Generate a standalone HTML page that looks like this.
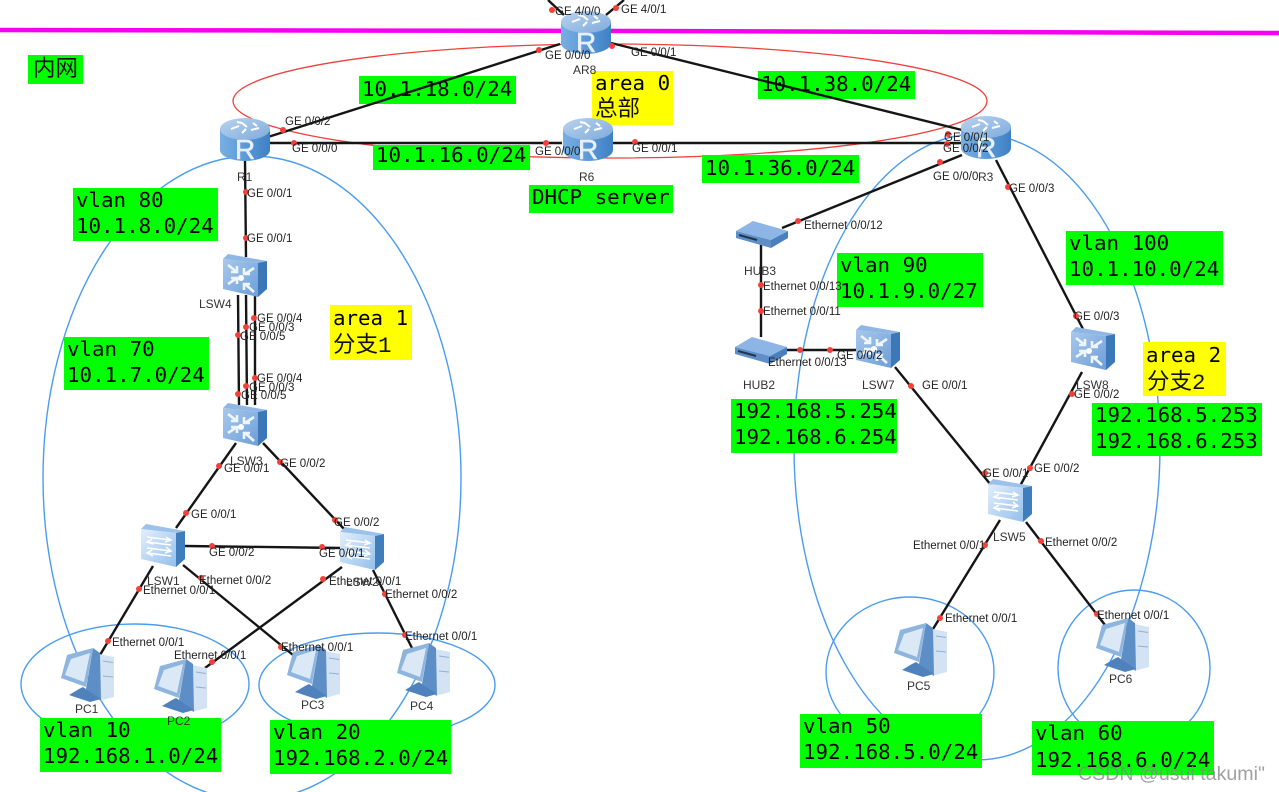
<!DOCTYPE html>
<html><head><meta charset="utf-8"><title>Network diagram</title>
<style>
html,body{margin:0;padding:0;background:#fff;width:1279px;height:792px;overflow:hidden}
svg{display:block;filter:blur(.35px)}
.l{font:11.5px "Liberation Sans",sans-serif;fill:#222}
.n{font:12px "Liberation Sans",sans-serif;fill:#333}
.m{font:20.8px "DejaVu Sans Mono","Noto Sans CJK SC",monospace;fill:#000}
.c{font:22.5px "Liberation Mono","Noto Sans CJK SC",monospace;fill:#111}
.r{font:28px "Liberation Sans",sans-serif;fill:#e6effa;stroke:#e6effa;stroke-width:.6}
.w{font:19.6px "Liberation Sans",sans-serif;fill:#888;fill-opacity:.8}
.k line,.k path{stroke:#151515;stroke-width:2.4;fill:none}
.b ellipse{fill:none;stroke:#4a9cf0;stroke-width:1.4}
.g{fill:#0f0}.y{fill:#ff0}
.d circle{fill:#f5403a;r:3px}
</style></head><body>
<svg width="1279" height="792" viewBox="0 0 1279 792" xmlns="http://www.w3.org/2000/svg">
<defs>
<linearGradient id="rb" x1="0" x2="1" y1="0" y2="0"><stop offset="0" stop-color="#78aee2"/><stop offset=".5" stop-color="#5c9ad8"/><stop offset="1" stop-color="#3f80c4"/></linearGradient>
<linearGradient id="rt" x1="0" x2="1" y1="0" y2="1"><stop offset="0" stop-color="#b9d3ef"/><stop offset="1" stop-color="#7fabdc"/></linearGradient>
<linearGradient id="sf" x1="0" x2="1" y1="0" y2="1"><stop offset="0" stop-color="#a8c8ec"/><stop offset="1" stop-color="#6d9fd8"/></linearGradient>
<linearGradient id="lf" x1="0" x2="1" y1="0" y2="1"><stop offset="0" stop-color="#e2effb"/><stop offset="1" stop-color="#94bfec"/></linearGradient>
<g id="router">
<path d="M-25-11V10A25 11 0 0 0 25 10V-11Z" fill="url(#rb)"/>
<ellipse cx="0" cy="-11" rx="25" ry="11" fill="url(#rt)"/>
<path d="M-14-11l8-3M-3-17l5 4M6-10l8-2M-3-7l4-4M-8-18l5 1M8-17l4 3" stroke="#fff" stroke-width="2" fill="none"/>
</g>
<g id="l3">
<polygon points="-22,-18 -17,-23 22,-16 13,-14" fill="#8fb7e4"/>
<polygon points="13,-14 22,-16 22,12 13,20" fill="#3c78b8"/>
<polygon points="-22,-18 13,-14 13,20 -22,12" fill="url(#sf)"/>
<path d="M-17-12l9 7M-8-11v6h-6M9-9l-9 6M-1-9v6h6M-17 7l9-6M-14 1h6v6M9 15l-9-8M-1 13V7h6" stroke="#eef5fc" stroke-width="2.6" fill="none"/>
<circle cx="-4" cy="1" r="3" fill="#fff"/>
</g>
<g id="l2">
<polygon points="-22,-18 -17,-23 22,-16 13,-14" fill="#9cc2ea"/>
<polygon points="13,-14 22,-16 22,12 13,20" fill="#3f7dbd"/>
<polygon points="-22,-18 13,-14 13,20 -22,12" fill="url(#lf)"/>
<path d="M-16-10l24 3M3-10l5 3-6 2M8-2l-24-3M-11-8l-5 3 6 2M-16 1l24 3M3 0l5 4-6 2M8 9l-24-3M-11 3l-5 3 6 3" stroke="#fff" stroke-width="1.5" fill="none"/>
</g>
<g id="hub">
<polygon points="-26,-3 -9,-13 26,-3 9,6" fill="#8db6e6"/>
<polygon points="-26,-3 9,6 9,14 -26,4" fill="#5f8fc6"/>
<polygon points="9,6 26,-3 26,4 9,14" fill="#4a80bd"/>
<path d="M-23 1l18 5" stroke="#20364f" stroke-width="2"/>
</g>
<g id="pc">
<polygon points="12,-21 27,-18 27,22 12,26" fill="#d3e3f4"/>
<path d="M16-14l10 1.500M16 1l10 1" stroke="#8fb0d4" stroke-width="1"/>
<polygon points="6,-27 13,-22 14,26 -1,14" fill="#5d8ec6"/>
<polygon points="-20,-20 6,-27 -1,12 -26,3" fill="#8db5de"/>
<polygon points="-16,-16 3,-22 -3,7 -22,0" fill="#dbe9f6"/>
<polygon points="-18,20 -8,14 -4,12 14,24 3,27" fill="#4f82bd"/>
</g>
</defs>
<rect width="1279" height="792" fill="#fff"/>
<path d="M0 30 L640 31 L1279 33" stroke="#f700f2" stroke-width="4.500" fill="none"/>
<ellipse cx="610" cy="101" rx="377" ry="57" fill="none" stroke="#f0403c" stroke-width="1.3"/>
<g class="b">
<ellipse cx="252" cy="478" rx="209" ry="322"/>
<ellipse cx="977" cy="447" rx="183" ry="313"/>
<ellipse cx="135" cy="684" rx="114" ry="60"/>
<ellipse cx="377" cy="685" rx="118" ry="52"/>
<ellipse cx="910" cy="672" rx="84" ry="75"/>
<ellipse cx="1134" cy="668" rx="76" ry="78"/>
</g>
<g class="k">
<line x1="548" y1="0" x2="564" y2="15"/><line x1="606" y1="15" x2="624" y2="0"/>
<line x1="268" y1="143" x2="562" y2="143"/><line x1="612" y1="143" x2="965" y2="143"/>
<line x1="245" y1="160" x2="246" y2="257"/>
<line x1="238" y1="295" x2="239" y2="405"/><line x1="246" y1="295" x2="247" y2="405"/><line x1="255" y1="295" x2="255" y2="405"/>
<line x1="236" y1="443" x2="176" y2="528"/><line x1="263" y1="443" x2="345" y2="530"/>
<line x1="185" y1="546" x2="342" y2="548"/>
<line x1="153" y1="566" x2="100" y2="655"/><line x1="183" y1="565" x2="293" y2="655"/>
<line x1="342" y1="567" x2="205" y2="668"/><line x1="373" y1="570" x2="413" y2="650"/>
<line x1="962" y1="155" x2="782" y2="228"/><line x1="761" y1="245" x2="761" y2="337"/>
<line x1="787" y1="350" x2="857" y2="350"/><line x1="895" y1="367" x2="995" y2="490"/>
<line x1="996" y1="160" x2="1084" y2="331"/><line x1="1082" y1="372" x2="1020" y2="486"/>
<line x1="1000" y1="520" x2="933" y2="629"/><line x1="1026" y1="522" x2="1105" y2="625"/>
</g>
<rect class="g" x="28" y="55" width="55" height="29"/>
<rect class="g" x="359" y="76" width="157" height="28"/>
<rect class="y" x="592" y="71" width="81" height="54"/>
<rect class="g" x="758" y="71" width="157" height="28"/>
<rect class="g" x="373" y="145" width="157" height="25"/>
<rect class="g" x="702" y="155" width="157" height="28"/>
<rect class="g" x="529" y="185" width="144" height="28"/>
<rect class="g" x="73" y="188" width="145" height="53"/>
<rect class="g" x="1066" y="231" width="157" height="54"/>
<rect class="g" x="837" y="253" width="146" height="54"/>
<rect class="y" x="330" y="305" width="82" height="55"/>
<rect class="g" x="64" y="337" width="145" height="53"/>
<rect class="y" x="1143" y="342" width="83" height="54"/>
<rect class="g" x="731" y="399" width="166" height="54"/>
<rect class="g" x="1092" y="403" width="170" height="53"/>
<rect class="g" x="40" y="718" width="181" height="54"/>
<rect class="g" x="270" y="720" width="181" height="54"/>
<rect class="g" x="800" y="714" width="182" height="54"/>
<rect class="g" x="1032" y="721" width="182" height="54"/>
<g class="k"><line x1="560" y1="44" x2="268" y2="137"/><line x1="611" y1="43" x2="966" y2="131"/></g>
<use href="#router" x="586" y="33"/><text class="r" x="576" y="52">R</text>
<use href="#router" x="245" y="140"/><text class="r" x="235" y="159">R</text>
<use href="#router" x="588" y="140"/><text class="r" x="578" y="159">R</text>
<use href="#router" x="986" y="138"/><text class="r" x="976" y="157">R</text>
<use href="#l3" x="245" y="277"/><use href="#l3" x="245" y="426"/><use href="#l3" x="878" y="348"/><use href="#l3" x="1093" y="350"/>
<use href="#l2" x="163" y="547"/><use href="#l2" x="362" y="550"/><use href="#l2" x="1010" y="502"/>
<use href="#hub" x="762" y="234"/><use href="#hub" x="761" y="350"/>
<use href="#pc" x="87" y="675"/><use href="#pc" x="180" y="686"/><use href="#pc" x="313" y="672"/><use href="#pc" x="423" y="670"/><use href="#pc" x="920" y="650"/><use href="#pc" x="1122" y="645"/>
<g class="d">
<circle cx="552" cy="10"/><circle cx="616" cy="8"/><circle cx="539" cy="50"/><circle cx="612" cy="46"/>
<circle cx="283" cy="130"/><circle cx="294" cy="143"/><circle cx="246" cy="192"/><circle cx="246" cy="238"/>
<circle cx="546" cy="143"/><circle cx="635" cy="142"/><circle cx="948" cy="134"/><circle cx="947" cy="144"/><circle cx="940" cy="162"/><circle cx="1008" cy="187"/>
<circle cx="798" cy="221"/><circle cx="761" cy="285"/><circle cx="761" cy="311"/><circle cx="800" cy="350"/><circle cx="830" cy="350"/><circle cx="911" cy="386"/>
<circle cx="1076" cy="316"/><circle cx="1072" cy="394"/><circle cx="985" cy="473"/><circle cx="1030" cy="468"/><circle cx="985" cy="545"/><circle cx="1041" cy="541"/><circle cx="940" cy="618"/><circle cx="1097" cy="614"/>
<circle cx="254" cy="318"/><circle cx="246" cy="327"/><circle cx="238" cy="335"/><circle cx="255" cy="378"/><circle cx="246" cy="386"/><circle cx="238" cy="394"/>
<circle cx="219" cy="466"/><circle cx="280" cy="462"/><circle cx="186" cy="513"/><circle cx="335" cy="520"/><circle cx="212" cy="546"/><circle cx="322" cy="547"/>
<circle cx="139" cy="589"/><circle cx="201" cy="578"/><circle cx="323" cy="579"/><circle cx="385" cy="594"/><circle cx="405" cy="635"/><circle cx="281" cy="647"/><circle cx="108" cy="641"/><circle cx="212" cy="662"/>
</g>
<g class="l">
<text x="555" y="15">GE 4/0/0</text><text x="621" y="13">GE 4/0/1</text><text x="545" y="59">GE 0/0/0</text><text x="631" y="56">GE 0/0/1</text>
<text x="285" y="125">GE 0/0/2</text><text x="292" y="152">GE 0/0/0</text><text x="247" y="197">GE 0/0/1</text><text x="247" y="242">GE 0/0/1</text>
<text x="535" y="155">GE 0/0/0</text><text x="632" y="152">GE 0/0/1</text>
<text x="944" y="141">GE 0/0/1</text><text x="943" y="152">GE 0/0/2</text><text x="933" y="180">GE 0/0/0</text><text x="1009" y="192">GE 0/0/3</text>
<text x="804" y="229">Ethernet 0/0/12</text><text x="763" y="290">Ethernet 0/0/13</text><text x="763" y="315">Ethernet 0/0/11</text><text x="768" y="366">Ethernet 0/0/13</text>
<text x="837" y="359">GE 0/0/2</text><text x="922" y="389">GE 0/0/1</text><text x="1074" y="320">GE 0/0/3</text><text x="1074" y="398">GE 0/0/2</text>
<text x="983" y="477">GE 0/0/1</text><text x="1034" y="472">GE 0/0/2</text><text x="913" y="549">Ethernet 0/0/1</text><text x="1045" y="546">Ethernet 0/0/2</text>
<text x="945" y="622">Ethernet 0/0/1</text><text x="1097" y="619">Ethernet 0/0/1</text>
<text x="257" y="322">GE 0/0/4</text><text x="249" y="331">GE 0/0/3</text><text x="240" y="340">GE 0/0/5</text>
<text x="257" y="382">GE 0/0/4</text><text x="249" y="391">GE 0/0/3</text><text x="241" y="399">GE 0/0/5</text>
<text x="224" y="472">GE 0/0/1</text><text x="280" y="467">GE 0/0/2</text><text x="191" y="518">GE 0/0/1</text><text x="334" y="526">GE 0/0/2</text>
<text x="209" y="556">GE 0/0/2</text><text x="319" y="557">GE 0/0/1</text>
<text x="199" y="584">Ethernet 0/0/2</text><text x="143" y="594">Ethernet 0/0/1</text><text x="329" y="585">Ethernet 0/0/1</text><text x="385" y="598">Ethernet 0/0/2</text>
<text x="405" y="640">Ethernet 0/0/1</text><text x="281" y="651">Ethernet 0/0/1</text><text x="112" y="646">Ethernet 0/0/1</text><text x="174" y="659">Ethernet 0/0/1</text>
</g>
<g class="n">
<text x="573" y="74">AR8</text><text x="237" y="181">R1</text><text x="579" y="181">R6</text><text x="978" y="181">R3</text>
<text x="744" y="275">HUB3</text><text x="743" y="389">HUB2</text><text x="862" y="389">LSW7</text><text x="1076" y="389">LSW8</text><text x="993" y="541">LSW5</text>
<text x="199" y="308">LSW4</text><text x="230" y="465">LSW3</text><text x="147" y="585">LSW1</text><text x="346" y="586">LSW2</text>
<text x="75" y="713">PC1</text><text x="167" y="725">PC2</text><text x="301" y="709">PC3</text><text x="410" y="710">PC4</text><text x="907" y="690">PC5</text><text x="1109" y="683">PC6</text>
</g>
<g class="m">
<text x="33" y="76" class="c">内网</text>
<text x="362" y="96">10.1.18.0/24</text>
<text x="595" y="90">area 0</text><text x="595" y="116" class="c">总部</text>
<text x="761" y="91">10.1.38.0/24</text>
<text x="376" y="162">10.1.16.0/24</text>
<text x="705" y="175">10.1.36.0/24</text>
<text x="532" y="204">DHCP server</text>
<text x="76" y="207">vlan 80</text><text x="76" y="233">10.1.8.0/24</text>
<text x="1069" y="250">vlan 100</text><text x="1069" y="276">10.1.10.0/24</text>
<text x="840" y="272">vlan 90</text><text x="840" y="298">10.1.9.0/27</text>
<text x="333" y="325">area 1</text><text x="333" y="352" class="c">分支1</text>
<text x="67" y="356">vlan 70</text><text x="67" y="382">10.1.7.0/24</text>
<text x="1146" y="362">area 2</text><text x="1147" y="389" class="c">分支2</text>
<text x="734" y="418">192.168.5.254</text><text x="734" y="444">192.168.6.254</text>
<text x="1095" y="422">192.168.5.253</text><text x="1095" y="448">192.168.6.253</text>
<text x="43" y="737">vlan 10</text><text x="43" y="763">192.168.1.0/24</text>
<text x="273" y="739">vlan 20</text><text x="273" y="765">192.168.2.0/24</text>
<text x="803" y="733">vlan 50</text><text x="803" y="759">192.168.5.0/24</text>
<text x="1035" y="740">vlan 60</text><text x="1035" y="767">192.168.6.0/24</text>
</g>
<text class="w" x="1078" y="780">CSDN @usui takumi"</text>
</svg>
</body></html>
